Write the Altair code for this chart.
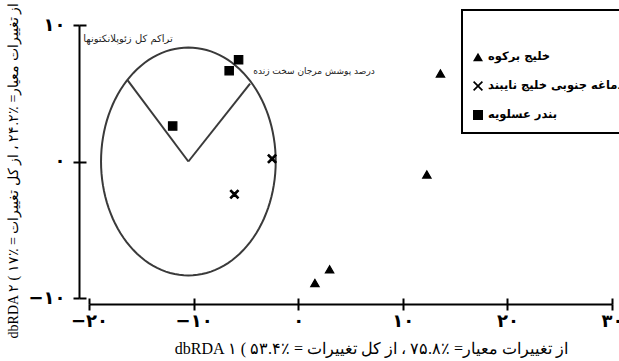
import altair as alt
import pandas as pd

# dbRDA ordination: site scores, predictor vectors and the unit circle
SITES = ["خلیج برکوه", "دماغه جنوبی خلیج نایبند", "بندر عسلویه"]
# filled "x" outline so it draws the same way in the plot and in the legend
X_SYMBOL = ("M-1,-0.76L-0.24,0L-1,0.76L-0.76,1L0,0.24L0.76,1L1,0.76"
            "L0.24,0L1,-0.76L0.76,-1L0,-0.24L-0.76,-1Z")
SITE_SHAPES = ["triangle-up", X_SYMBOL, "square"]

site = ["خلیج برکوه"] * 4 + ["دماغه جنوبی خلیج نایبند"] * 2 + ["بندر عسلویه"] * 3
dbrda1 = [13.6, 12.3, 3.0, 1.6, -2.5, -6.1, -5.7, -6.6, -12.0]
dbrda2 = [6.45, -0.95, -7.9, -8.9, 0.2, -2.4, 7.45, 6.65, 2.6]

vector_names = ["تراکم کل زئوپلانکتونها", "درصد پوشش مرجان سخت زنده"]
vector_x = [-16.3, -4.6]
vector_y = [5.95, 5.7]
vector_label_x = [-20.55, -4.3]
vector_label_y = [9.0, 6.6]

circle_center = (-10.5, 0.0)
circle_radius = 8.35

x_ticks = [-20, -10, 0, 10, 20, 30]
y_ticks = [-10, 0, 10]

RLE, PDF = "\u202b", "\u202c"
x_title = RLE + "از تغییرات معیار= ٪۷۵.۸ ، از کل تغییرات = ٪۵۳.۴ ) dbRDA ۱" + PDF
y_title = RLE + "از تغییرات معیار= ٪۲۴.۲ ، از کل تغییرات = ٪۱۷ ) dbRDA ۲" + PDF

FA_DIGITS = "۰۱۲۳۴۵۶۷۸۹"


def persian_label_expr():
    expr = "datum.label"
    for i, d in enumerate(FA_DIGITS):
        expr = f"replace({expr}, regexp('{i}', 'g'), '{d}')"
    return expr


LINE = "#3a3a3a"
x_scale = alt.Scale(domain=[-20, 30], nice=False, zero=False)
y_scale = alt.Scale(domain=[-10, 10], nice=False, zero=False)

x_axis_main = alt.Axis(
    orient="bottom", offset=6, values=x_ticks, tickSize=6, tickWidth=2, tickColor="black",
    domainColor="black", domainWidth=2, grid=False,
    labelExpr=persian_label_expr(), labelFont="DejaVu Sans", labelFontSize=18,
    labelFontWeight="bold", labelColor="black", labelPadding=2, labelFlush=False,
    title=x_title, titleFont="Liberation Serif", titleFontSize=16, titleFontWeight="normal",
    titleColor="black", titlePadding=10, titleX=282,
)
y_axis_main = alt.Axis(
    orient="left", offset=10, values=y_ticks, tickSize=6, tickWidth=2, tickColor="black",
    domainColor="black", domainWidth=2, grid=False,
    labelExpr=persian_label_expr(), labelFont="DejaVu Sans", labelFontSize=18,
    labelFontWeight="bold", labelColor="black", labelPadding=8, labelFlush=False,
    title=y_title, titleFont="Liberation Serif", titleFontSize=14, titleFontWeight="normal",
    titleColor="black", titlePadding=7, titleY=145,
)
# inner halves of the tick marks, so ticks cross the axis lines
x_axis_inner = alt.Axis(
    orient="bottom", offset=0, values=x_ticks, tickSize=6, tickWidth=2, tickColor="black",
    domain=False, labels=False, title=None, grid=False,
)
y_axis_inner = alt.Axis(
    orient="left", offset=3, values=y_ticks, tickSize=7, tickWidth=2, tickColor="black",
    domain=False, labels=False, title=None, grid=False,
)

circle = alt.Chart(alt.sequence(0, 363, 3, as_="deg")).transform_calculate(
    cx=f"{circle_center[0]} + {circle_radius} * cos(datum.deg * PI / 180)",
    cy=f"{circle_center[1]} + {circle_radius} * sin(datum.deg * PI / 180)",
).mark_line(color=LINE, strokeWidth=2, clip=False).encode(
    x=alt.X("cx:Q", scale=x_scale, axis=x_axis_inner),
    y=alt.Y("cy:Q", scale=y_scale, axis=y_axis_inner),
    order="deg:Q",
)

vec_df = pd.DataFrame({
    "idx": list(range(len(vector_names))),
    "name": vector_names,
    "x0": [circle_center[0]] * len(vector_names),
    "y0": [circle_center[1]] * len(vector_names),
    "x1": vector_x,
    "y1": vector_y,
    "lx": vector_label_x,
    "ly": vector_label_y,
})

vectors = alt.Chart(vec_df).mark_rule(color=LINE, strokeWidth=2).encode(
    x=alt.X("x0:Q", scale=x_scale, axis=None),
    y=alt.Y("y0:Q", scale=y_scale, axis=None),
    x2="x1:Q",
    y2="y1:Q",
)


def vector_label(index, font_size):
    return alt.Chart(vec_df).transform_filter(f"datum.idx == {index}").mark_text(
        align="left", baseline="middle", fontSize=font_size, font="DejaVu Sans",
        color="#222222", clip=False,
    ).encode(
        x=alt.X("lx:Q", scale=x_scale, axis=None),
        y=alt.Y("ly:Q", scale=y_scale, axis=None),
        text="name:N",
    )


pts_df = pd.DataFrame({"site": site, "dbRDA1": dbrda1, "dbRDA2": dbrda2})

points = alt.Chart(pts_df).mark_point(
    filled=True, color="black", stroke="black", strokeWidth=1.2, opacity=1, size=70
).encode(
    x=alt.X("dbRDA1:Q", scale=x_scale, axis=x_axis_main),
    y=alt.Y("dbRDA2:Q", scale=y_scale, axis=y_axis_main),
    shape=alt.Shape(
        "site:N",
        scale=alt.Scale(domain=SITES, range=SITE_SHAPES),
        legend=alt.Legend(
            title=" ", orient="none", legendX=373, legendY=-15,
            titleFontSize=12, titlePadding=19,
            labelFont="DejaVu Sans", labelFontSize=11.5, labelFontWeight="bold",
            labelColor="black", labelOffset=4, labelLimit=300,
            symbolSize=100, symbolFillColor="black", symbolStrokeColor="black",
            symbolStrokeWidth=1.5, rowPadding=13, padding=10,
            strokeColor="black",
        ),
    ),
)

chart = alt.layer(
    circle, vectors, vector_label(0, 10), vector_label(1, 9), points
).resolve_axis(
    x="independent", y="independent"
).properties(
    width=523,
    height=273,
    autosize=alt.AutoSizeParams(type="none"),
    padding={"left": 89, "top": 25, "right": 7, "bottom": 63},
    background="white",
).configure_view(stroke=None).configure_legend(strokeWidth=2)

chart.save("out.html", embed_options={"renderer": "svg", "actions": False})
